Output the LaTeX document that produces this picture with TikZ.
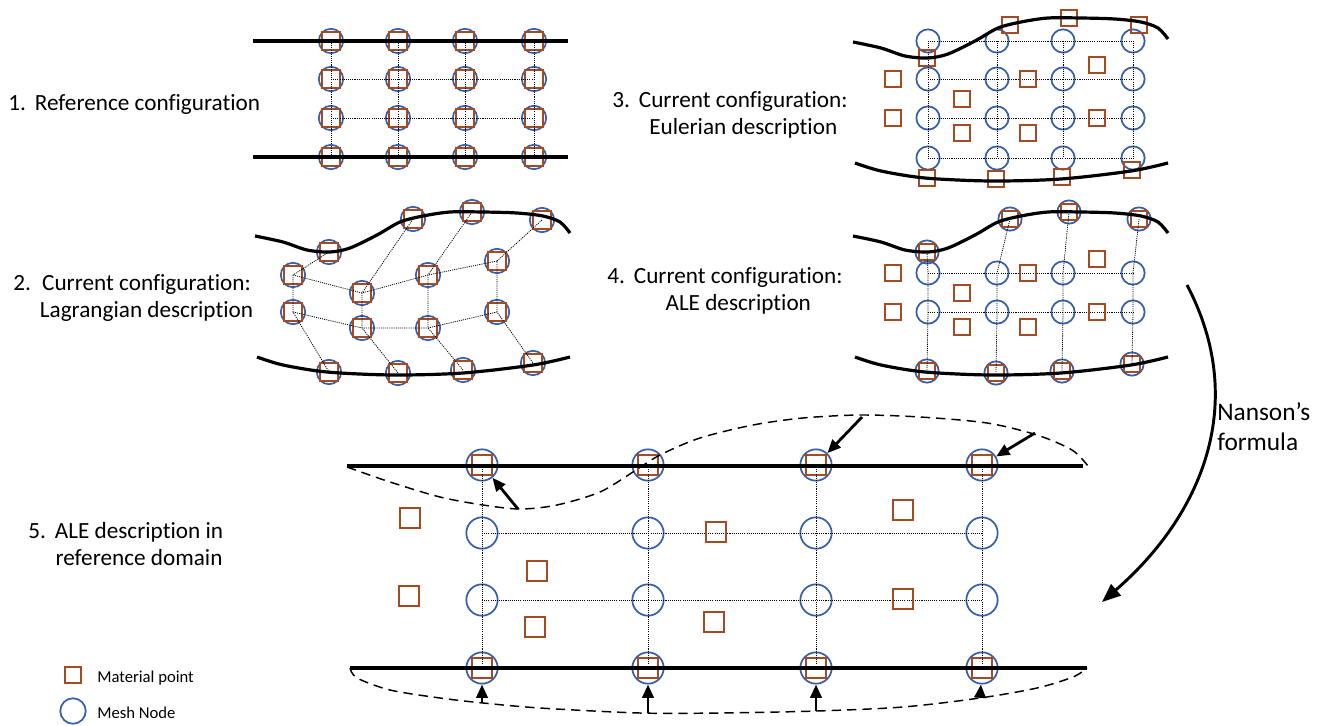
\documentclass[tikz,border=0pt]{standalone}
\usepackage{fontspec}
\setmainfont{Carlito}[Ligatures=NoCommon]
\usetikzlibrary{arrows.meta}

\definecolor{meshblue}{RGB}{55,95,170}
\definecolor{matbrown}{RGB}{165,75,35}

% boundary curves of the current configuration (panel 2 position)
\newcommand{\topwall}{plot[smooth] coordinates {(255,236) (283,242) (307,250) (330,252) (350,248) (377,235) (400,222) (423,216) (450,212) (483,212) (517,213) (543,216) (560,222) (570,233)}}
\newcommand{\botwall}{plot[smooth] coordinates {(257,357) (283,365) (327,372) (393,375) (463,373) (533,365) (570,357)}}
\newcommand{\lnum}[1]{\makebox[1.15em][l]{#1}}

\begin{document}
\begin{tikzpicture}[x=0.75pt, y=-0.75pt,
    mesh/.style={circle, draw=meshblue, line width=1.3pt, inner sep=0pt, minimum size=#1},
    mesh/.default=18.3pt,
    matpt/.style={rectangle, draw=matbrown, line width=1.3pt, inner sep=0pt, minimum size=#1},
    matpt/.default=13.1pt,
    meshline/.style={line width=0.6pt, dash pattern=on 0.8pt off 0.8pt},
    wall/.style={line width=2.4pt},
    mapped/.style={line width=1.1pt, dash pattern=on 7pt off 4.5pt},
    push/.style={line width=2.1pt, -{Triangle[length=10pt, width=8.5pt]}},
    lbl/.style={font=\fontsize{17.4}{20.5}\selectfont, inner sep=0pt}]

    \useasboundingbox (0,0) rectangle (1324,725);

    % 1. reference configuration
    \foreach \x [count=\j] in {331,398,465,534}
        \foreach \y [count=\i] in {41,79,118,157} {
            \node[mesh] (r\i\j) at (\x,\y) {};
            \node[matpt] (rq\i\j) at (\x,\y) {};
        }
    \foreach \j in {1,...,4}
        \draw[meshline] (r1\j.center) -- (r4\j.center);
    \foreach \i in {2,3}
        \draw[meshline] (r\i1.center) -- (r\i4.center);
    \draw[wall] (253,41) -- (568,41);
    \draw[wall] (253,157) -- (568,157);
    \node[lbl, anchor=base west] (cap1) at (8,110) {\lnum{1.}Reference configuration};

    % 2. Lagrangian description
    \foreach \n/\x/\y in {l11/329/252, l12/413/219, l13/472/212, l14/542/220,
                          l21/293/275, l22/362/293, l23/428/275, l24/497/261,
                          l31/293/312, l32/362/328, l33/428/328, l34/497/312,
                          l41/329/372, l42/398/373, l43/463/370, l44/533/363} {
        \node[mesh] (\n) at (\x,\y) {};
        \node[matpt] (q\n) at (\x,\y) {};
    }
    \foreach \j in {1,...,4}
        \draw[meshline] (l1\j.center) -- (l2\j.center) -- (l3\j.center) -- (l4\j.center);
    \foreach \i in {2,3}
        \draw[meshline] (l\i1.center) -- (l\i2.center) -- (l\i3.center) -- (l\i4.center);
    \draw[wall] \topwall;
    \draw[wall] \botwall;
    \node[lbl, anchor=base west] (cap2) at (13,290)
        {\lnum{2.}\begin{tabular}[t]{@{}c@{}}Current configuration:\\Lagrangian description\end{tabular}};

    % 3. Eulerian description
    \foreach \x [count=\j] in {928,997,1063,1133}
        \foreach \y [count=\i] in {41,79,118,158}
            \node[mesh=17.5pt] (e\i\j) at (\x,\y) {};
    \foreach \j in {1,...,4}
        \draw[meshline] (e1\j.center) -- (e4\j.center);
    \foreach \i in {1,...,4}
        \draw[meshline] (e\i1.center) -- (e\i4.center);
    \foreach \x/\y [count=\k] in {927/58, 1010/25, 1069/18, 1139/25,
                                  893/79, 1028/79, 1097/65, 962/99,
                                  893/118, 1097/118, 962/133, 1028/133,
                                  927/178, 996/179, 1062/177, 1132/170}
        \node[matpt=11.5pt] (eq\k) at (\x,\y) {};
    \begin{scope}[shift={(598,-194)}]
        \draw[wall] \topwall;
        \draw[wall] \botwall;
    \end{scope}
    \node[lbl, anchor=base west] (cap3) at (612,107)
        {\lnum{3.}\begin{tabular}[t]{@{}c@{}}Current configuration:\\Eulerian description\end{tabular}};

    % 4. ALE description
    \foreach \n/\x/\y in {a11/927/252, a12/1010/219, a13/1069/212, a14/1139/219,
                          a41/927/371, a42/996/373, a43/1062/371, a44/1132/364} {
        \node[mesh=17.5pt] (\n) at (\x,\y) {};
        \node[matpt=11.5pt] (q\n) at (\x,\y) {};
    }
    \foreach \x [count=\j] in {928,997,1063,1133} {
        \node[mesh=17.5pt] (a2\j) at (\x,273) {};
        \node[mesh=17.5pt] (a3\j) at (\x,312) {};
    }
    \foreach \j in {1,...,4}
        \draw[meshline] (a1\j.center) -- (a2\j.center) -- (a3\j.center) -- (a4\j.center);
    \foreach \i in {2,3}
        \draw[meshline] (a\i1.center) -- (a\i4.center);
    \foreach \x/\y [count=\k] in {893/273, 1028/273, 1097/259, 962/293,
                                  893/312, 1097/312, 962/327, 1028/327}
        \node[matpt=11.5pt] (aq\k) at (\x,\y) {};
    \begin{scope}[shift={(598,0)}]
        \draw[wall] \topwall;
        \draw[wall] \botwall;
    \end{scope}
    \node[lbl, anchor=base west] (cap4) at (607,283)
        {\lnum{4.}\begin{tabular}[t]{@{}c@{}}Current configuration:\\ALE description\end{tabular}};

    % 5. ALE description in reference domain
    \foreach \x [count=\j] in {482,648,816,982}
        \foreach \y [count=\i] in {465,533,600,668}
            \node[mesh=23.5pt] (n\i\j) at (\x,\y) {};
    \foreach \j in {1,...,4} {
        \node[matpt=15.3pt] (nt\j) at (n1\j) {};
        \node[matpt=15.3pt] (nb\j) at (n4\j) {};
    }
    \foreach \j in {1,...,4}
        \draw[meshline] (n1\j.center) -- (n4\j.center);
    \foreach \i in {2,3}
        \draw[meshline] (n\i1.center) -- (n\i4.center);
    \foreach \x/\y [count=\k] in {410/518, 409/596, 537/571, 535/627,
                                  716/532, 714/622, 903/510, 903/599}
        \node[matpt=15.3pt] (nq\k) at (\x,\y) {};
    \draw[wall] (347,466) -- (1083,466);
    \draw[wall] (350,668) -- (1087,668);

    % mapped boundaries
    \draw[mapped] plot[smooth] coordinates {(347,467) (390,482) (440,497) (483,505) (520,509) (557,505)
        (600,492) (633,472) (660,455) (700,438) (753,425) (803,418) (860,415) (920,417) (987,423)
        (1037,435) (1072,450) (1088,466)};
    \draw[mapped] plot[smooth] coordinates {(350,668) (357,678) (390,690) (440,698) (483,703) (540,708)
        (640,713) (720,713) (817,711) (903,707) (980,698) (1037,688) (1073,677) (1087,668)};

    % mesh motion
    \coordinate (ta1) at (518,509);
    \coordinate (ta3) at (862,417);
    \coordinate (ta4) at (1035,433);
    \coordinate (tb1) at (482,703);
    \coordinate (tb2) at (648,713);
    \coordinate (tb3) at (816,711);
    \coordinate (tb4) at (980,698);
    \draw[push] (ta1) -- (n11);
    \draw[push] (ta3) -- (n13);
    \draw[push] (ta4) -- (n14);
    \foreach \j in {1,...,4}
        \draw[push] (tb\j) -- (n4\j);
    \node[lbl, anchor=base west] (cap5) at (28,538)
        {\lnum{5.}\begin{tabular}[t]{@{}c@{}}ALE description in\\reference domain\end{tabular}};

    % Nanson's formula
    \coordinate (ns) at (1187,285);
    \coordinate (ne) at (1102,602);
    \draw[line width=2.2pt, -{Triangle[length=14pt, width=11pt]}] (ns) .. controls (1249,403) and (1202,515) .. (ne);
    \node[font=\fontsize{19}{22}\selectfont, inner sep=0pt, anchor=base west, align=left] (nanson) at (1217,450)
        {Nanson’s\\formula};

    % legend
    \node[matpt=11.5pt] (lgq) at (73,675) {};
    \node[mesh=19.1pt] (lgc) at (73,711) {};
    \node[font=\fontsize{12.5}{15}\selectfont, inner sep=0pt, anchor=base west] (lgqt) at (97,682) {Material point};
    \node[font=\fontsize{12.5}{15}\selectfont, inner sep=0pt, anchor=base west] (lgct) at (97,718) {Mesh Node};

\end{tikzpicture}
\end{document}
